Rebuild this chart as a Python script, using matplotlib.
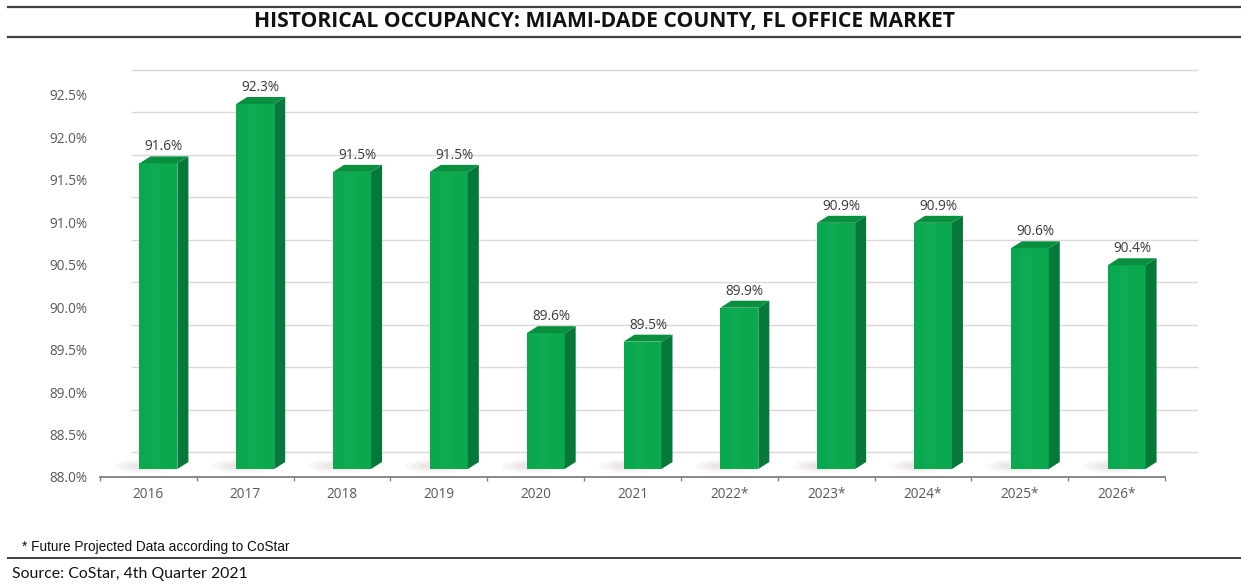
import matplotlib
matplotlib.use("Agg")
import matplotlib.pyplot as plt
from matplotlib.patches import Polygon, Ellipse
from matplotlib.lines import Line2D

# ---------------- data ----------------
categories = ["2016", "2017", "2018", "2019", "2020", "2021",
              "2022*", "2023*", "2024*", "2025*", "2026*"]
occupancy = [91.6, 92.3, 91.5, 91.5, 89.6, 89.5, 89.9, 90.9, 90.9, 90.6, 90.4]
y_ticks = [88.0, 88.5, 89.0, 89.5, 90.0, 90.5, 91.0, 91.5, 92.0, 92.5]
y_tick_labels = ["88.0%", "88.5%", "89.0%", "89.5%", "90.0%",
                 "90.5%", "91.0%", "91.5%", "92.0%", "92.5%"]
title_text = "HISTORICAL OCCUPANCY: MIAMI-DADE COUNTY, FL OFFICE MARKET"
footnote_text = "* Future Projected Data according to CoStar"
source_text = "Source: CoStar, 4th Quarter 2021"

# ---------------- style ----------------
FRONT = "#0aa84f"
SIDE = "#06783a"
TOP = "#08903f"
GRID = "#d9d9d9"
TXT = "#595959"
FS = 9.8

W, H = 1241, 584
fig = plt.figure(figsize=(W / 100, H / 100), dpi=100)
fig.patch.set_facecolor("white")

ax = fig.add_axes([100 / W, (H - 477) / H, 1065 / W, 382 / H])
n = len(categories)
xs = list(range(n))
ax.set_xlim(-0.5, n - 0.5)
ax.set_ylim(y_ticks[0], y_ticks[-1])
base = y_ticks[0]

# pixel -> data scale
p0 = ax.transData.transform((0, base))
p1 = ax.transData.transform((1, base + 1))
sx, sy = p1[0] - p0[0], p1[1] - p0[1]

def dxy(px, py):
    return px / sx, py / sy

# 3D offsets in pixels
wall_dx, wall_dy = dxy(32, 25)
front_dx, front_dy = dxy(10, 8)
depth_dx, depth_dy = dxy(11, 7)
bw = 38 / sx

# back wall gridlines
for t in y_ticks:
    ax.add_line(Line2D([-0.5 + wall_dx, n - 0.5 + wall_dx], [t + wall_dy, t + wall_dy],
                       color=GRID, lw=1.0, zorder=0, clip_on=False))

# floor shadows
for x in xs:
    for k, a in enumerate([0.05, 0.06, 0.07]):
        e = Ellipse((x + front_dx - bw * 0.3, base + front_dy + dxy(0, 3)[1]),
                    width=bw * (1.7 - 0.35 * k), height=(14 - 4 * k) / sy,
                    facecolor="#8a7070", edgecolor="none", alpha=a, zorder=1,
                    clip_on=False)
        ax.add_patch(e)

# bars: front face
bars = ax.bar([x + front_dx for x in xs], [v - base for v in occupancy], bottom=base + front_dy,
              width=bw, color=FRONT, edgecolor="none", zorder=3, clip_on=False)

for x, v in zip(xs, occupancy):
    xl = x + front_dx - bw / 2
    xr = x + front_dx + bw / 2
    yb = base + front_dy
    yt = v + front_dy
    side = Polygon([(xr, yb), (xr + depth_dx, yb + depth_dy),
                    (xr + depth_dx, yt + depth_dy), (xr, yt)],
                   closed=True, facecolor=SIDE, edgecolor="none", zorder=3, clip_on=False)
    top = Polygon([(xl, yt), (xl + depth_dx, yt + depth_dy),
                   (xr + depth_dx, yt + depth_dy), (xr, yt)],
                  closed=True, facecolor=TOP, edgecolor="none", zorder=3, clip_on=False)
    ax.add_patch(side)
    ax.add_patch(top)
    ax.add_patch(Polygon([(xl + bw * 0.3, yb), (xl + bw * 0.55, yb),
                          (xl + bw * 0.55, yt), (xl + bw * 0.3, yt)],
                         closed=True, facecolor="white", alpha=0.025, edgecolor="none",
                         zorder=3.5, clip_on=False))
    ax.text(x + front_dx + depth_dx / 2, yt + depth_dy + dxy(0, 2)[1], f"{v:.1f}%",
            ha="center", va="bottom", fontsize=FS, color="#3a3a3a",
            family="Open Sans", zorder=5, clip_on=False)

# axes styling
for s in ["top", "right", "left"]:
    ax.spines[s].set_visible(False)
ax.spines["bottom"].set_color("#7f7f7f")
ax.spines["bottom"].set_linewidth(1.3)
ax.set_yticks(y_ticks)
ax.set_yticklabels(y_tick_labels, fontsize=FS, color=TXT, family="Open Sans")
ax.tick_params(axis="y", length=0, pad=9)
ax.set_xticks(xs)
ax.set_xticklabels(categories, fontsize=FS, color=TXT, family="Open Sans")
ax.tick_params(axis="x", which="major", length=0, pad=7)
ax.set_xticks([x - 0.5 for x in xs] + [n - 0.5], minor=True)
ax.tick_params(axis="x", which="minor", length=3, color="#7f7f7f", width=1)
ax.set_facecolor("none")

# title band
fig.add_artist(Line2D([8 / W, 1], [(H - 7) / H] * 2, color="#404040", lw=1.6))
fig.add_artist(Line2D([8 / W, 1], [(H - 37) / H] * 2, color="#404040", lw=1.6))
fig.text(604 / W, (H - 21) / H, title_text, ha="center", va="center",
         fontsize=15.2, fontweight="bold", color="#111111", family="Open Sans")

# footnote and source
fig.text(22 / W, (H - 547) / H, footnote_text, ha="left", va="center",
         fontsize=9.8, color="#111111", family="Liberation Sans")
fig.add_artist(Line2D([8 / W, 1], [(H - 558) / H] * 2, color="#404040", lw=1.4))
fig.text(12 / W, (H - 574) / H, source_text, ha="left", va="center",
         fontsize=11.4, color="#111111", family="Lato")

fig.savefig("out.png", dpi=100, facecolor="white")
